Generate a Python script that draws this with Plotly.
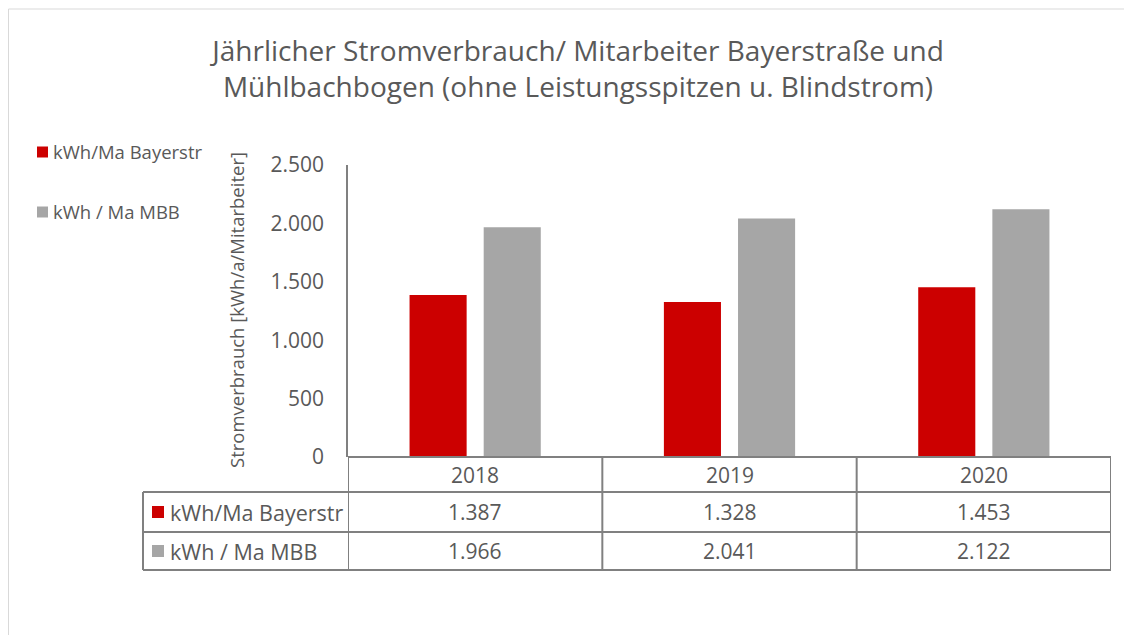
import plotly.graph_objects as go

# data
years = ["2018", "2019", "2020"]
series_names = ["kWh/Ma Bayerstr", "kWh / Ma MBB"]
bayerstr = [1387, 1328, 1453]
mbb = [1966, 2041, 2122]
series_values = [bayerstr, mbb]
series_colors = ["#CC0000", "#A6A6A6"]

# page is 1132x643, body has an 8px margin
OFF = 8
W, H = 1132 - 2 * OFF, 643 - 2 * OFF
FONT = "Open Sans"
TXT = "#595959"
LINE = "#808080"


def px(x):
    return (x - OFF) / W


def py(y):
    return 1 - (y - OFF) / H


def de(v):
    return f"{v:,}".replace(",", ".")


def label(x, y, text, size, xref="paper", xanchor="center", **kw):
    return dict(x=x, y=y, xref=xref, yref="paper", text=text, showarrow=False,
                xanchor=xanchor, yanchor="middle",
                font=dict(family=FONT, size=size, color=TXT), **kw)


fig = go.Figure()
for i, (name, vals) in enumerate(zip(series_names, series_values)):
    fig.add_trace(go.Bar(
        x=years, y=vals, name=name,
        marker=dict(color=series_colors[i], line=dict(width=0)),
        hoverinfo="x+y+name",
        showlegend=False,
    ))

shapes = []
annotations = []

# outer frame of the chart area
shapes.append(dict(type="rect", xref="paper", yref="paper",
                   x0=px(8.5), x1=px(1160), y0=py(680), y1=py(9),
                   line=dict(color="#D9D9D9", width=1)))

# legend (top left)
for i, (name, yy) in enumerate(zip(series_names, (152, 212))):
    shapes.append(dict(type="rect", xref="paper", yref="paper",
                       x0=px(37), x1=px(48), y0=py(yy + 5.5), y1=py(yy - 5.5),
                       fillcolor=series_colors[i], line=dict(width=0)))
    annotations.append(label(px(51), py(yy), name, 18.5, xanchor="left"))

# data table under the axis (columns follow the category axis)
top, r1, r2, bot = 457, 492, 532, 570
left_tab = 143
n = len(years)
shapes.append(dict(type="line", xref="x", yref="paper", x0=-0.5, x1=n - 0.5,
                   y0=py(top), y1=py(top), line=dict(color=LINE, width=2)))
for yy in (r1, r2, bot):
    shapes.append(dict(type="line", xref="paper", yref="paper", x0=px(left_tab), x1=px(1111),
                       y0=py(yy), y1=py(yy), line=dict(color=LINE, width=2)))
for k in range(n + 1):
    shapes.append(dict(type="line", xref="x", yref="paper", x0=k - 0.5, x1=k - 0.5,
                       y0=py(bot), y1=py(top), line=dict(color=LINE, width=2)))
shapes.append(dict(type="line", xref="paper", yref="paper", x0=px(left_tab), x1=px(left_tab),
                   y0=py(bot), y1=py(r1), line=dict(color=LINE, width=2)))

for k, yr in enumerate(years):
    annotations.append(label(k, py((top + r1) / 2), yr, 21, xref="x"))
row_mid = [(r1 + r2) / 2, (r2 + bot) / 2]
for i, (name, vals) in enumerate(zip(series_names, series_values)):
    ym = row_mid[i]
    shapes.append(dict(type="rect", xref="paper", yref="paper",
                       x0=px(152), x1=px(164), y0=py(ym + 6), y1=py(ym - 6),
                       fillcolor=series_colors[i], line=dict(width=0)))
    annotations.append(label(px(168), py(ym), name, 21.5, xanchor="left"))
    for k, v in enumerate(vals):
        annotations.append(label(k, py(ym), de(v), 21, xref="x"))

# y axis title
annotations.append(label(px(237), py(310), "Stromverbrauch [kWh/a/Mitarbeiter]", 18.5,
                         textangle=-90))

fig.update_layout(
    width=W, height=H,
    margin=dict(l=0, r=0, t=0, b=0),
    paper_bgcolor="white", plot_bgcolor="white",
    separators=",.",
    title=dict(text="Jährlicher Stromverbrauch/ Mitarbeiter Bayerstraße und<br>Mühlbachbogen (ohne Leistungsspitzen u. Blindstrom)",
               x=px(578), xanchor="center", y=py(61), yanchor="middle", automargin=False,
               font=dict(family=FONT, size=28, color=TXT)),
    barmode="group", bargap=0.417, bargroupgap=0.23,
    xaxis=dict(type="category", range=[-0.5, n - 0.5], domain=[px(348), px(1111)],
               showticklabels=False, showline=False, showgrid=False, zeroline=False,
               automargin=False),
    yaxis=dict(domain=[py(457), py(165)], range=[0, 2500], dtick=500, tickformat=",d",
               showgrid=False, zeroline=False, showline=True, linecolor=LINE, linewidth=1.5,
               ticks="", ticklabelstandoff=18, automargin=False,
               tickfont=dict(family=FONT, size=21, color=TXT)),
    showlegend=False,
    shapes=shapes,
    annotations=annotations,
)

fig.write_html("out.html")
